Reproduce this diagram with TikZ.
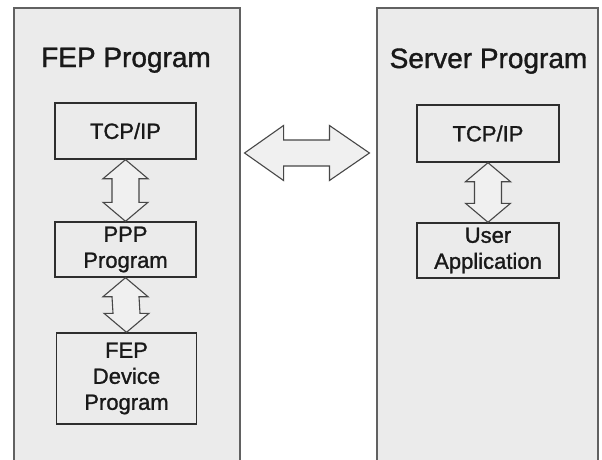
\documentclass[tikz,border=0pt]{standalone}
\usepackage{fontspec}
\setmainfont[FakeBold=1.0]{Liberation Sans}
\newfontfamily\heavyarial[FakeBold=1.2]{Liberation Sans}
\usetikzlibrary{calc}
\tikzset{
  outerbox/.style={draw=black!62, line width=1.1pt, fill=black!8, rectangle, inner sep=0pt},
  inbox/.style={draw=black!82, line width=1.4pt, fill=black!8, rectangle, inner sep=0pt, align=center,
    font=\heavyarial\fontsize{22}{26}\selectfont, text=black!90},
  titletext/.style={font=\heavyarial\fontsize{28}{32}\selectfont, text=black!90, inner sep=0pt, anchor=base},
  blockarrow/.style={draw=black!72, line width=1.1pt, fill=black!6, line join=miter},
}
\newcommand{\vdarrow}[2]{%
  \draw[blockarrow] (#1.south) -- ($(#1.south)+(22.5,19)$) -- ($(#1.south)+(13.5,19)$)
    -- ($(#2.north)+(13.5,-19)$) -- ($(#2.north)+(22.5,-19)$) -- (#2.north)
    -- ($(#2.north)+(-22.5,-19)$) -- ($(#2.north)+(-13.5,-19)$)
    -- ($(#1.south)+(-13.5,19)$) -- ($(#1.south)+(-22.5,19)$) -- cycle;}
\begin{document}
\begin{tikzpicture}[x=1pt,y=-1pt]
\useasboundingbox (0,0) rectangle (602,460);
\clip (0,0) rectangle (602,460);
\fill[white] (0,0) rectangle (602,460);
% outer program boxes
\node[outerbox, minimum width=226, minimum height=453] (fep) at (127,234.5) {};
\node[outerbox, minimum width=221, minimum height=453] (srv) at (487.5,234.5) {};
% titles
\node[titletext] (feptitle) at (126,67) {FEP Program};
\node[titletext] (srvtitle) at (488.5,68) {Server Program};
% left inner boxes
\node[inbox, minimum width=141, minimum height=56] (ltcp) at (125.5,131) {TCP/IP};
\node[inbox, minimum width=141, minimum height=55] (ppp) at (125.5,249.5) {PPP\\Program};
\node[inbox, minimum width=140, minimum height=91] (dev) at (126.5,378.5) {FEP\\Device\\Program};
% right inner boxes
\node[inbox, minimum width=142, minimum height=57] (rtcp) at (488,133.5) {TCP/IP};
\node[inbox, minimum width=142, minimum height=55] (app) at (488,250.5) {User\\Application};
% vertical block arrows
\vdarrow{ltcp}{ppp}
\vdarrow{ppp}{dev}
\vdarrow{rtcp}{app}
% horizontal block arrow between programs
\coordinate (ml) at ($(fep.east |- 0,153)+(4,0)$);
\coordinate (mr) at ($(srv.west |- 0,153)+(-7,0)$);
\draw[blockarrow] (ml) -- ($(ml)+(39,-27.5)$) -- ($(ml)+(39,-13)$)
  -- ($(mr)+(-40,-13)$) -- ($(mr)+(-40,-27.5)$) -- (mr)
  -- ($(mr)+(-40,27.5)$) -- ($(mr)+(-40,13)$)
  -- ($(ml)+(39,13)$) -- ($(ml)+(39,27.5)$) -- cycle;
\end{tikzpicture}
\end{document}
